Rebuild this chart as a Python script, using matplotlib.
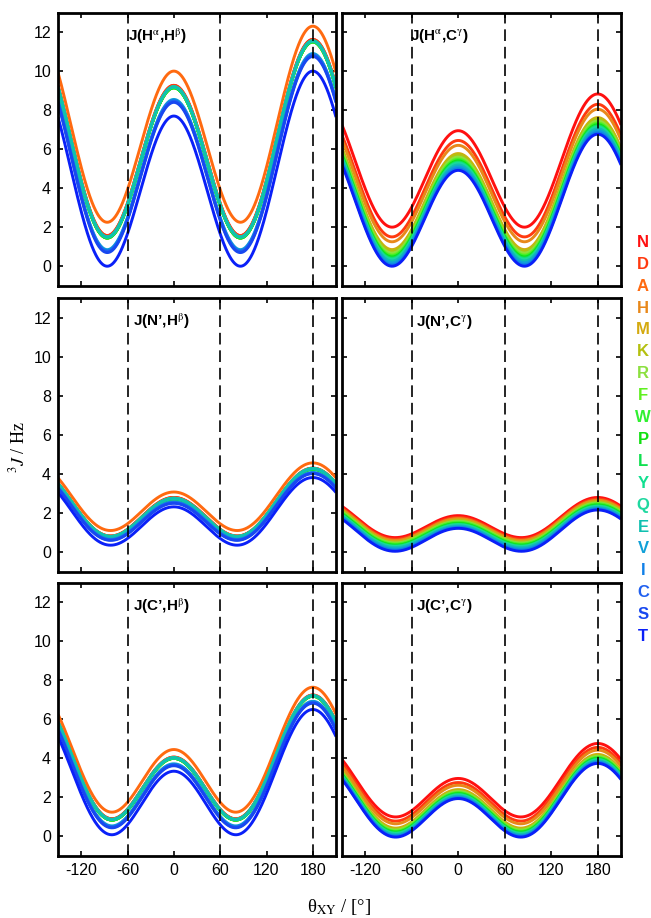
import numpy as np
import matplotlib
matplotlib.use("Agg")
import matplotlib.pyplot as plt

plt.rcParams['font.family'] = ['Liberation Sans', 'DejaVu Sans']
plt.rcParams['mathtext.fontset'] = 'stix'
plt.rcParams['axes.unicode_minus'] = False

# Residues (legend order) and their colours
residues = ['N', 'D', 'A', 'H', 'M', 'K', 'R', 'F', 'W', 'P', 'L', 'Y', 'Q', 'E', 'V', 'I', 'C', 'S', 'T']
res_colors = ['#FF1010', '#FF3A10', '#FF6A10', '#E8881A', '#D4AA10', '#B4C010', '#8CE040',
              '#60F020', '#30F030', '#10E010', '#10E050', '#10E090', '#20D8A0', '#10C0B0',
              '#10A0D8', '#1080E8', '#2060F0', '#1848F0', '#0A20F8']

nan = np.nan
# Coupling values read at theta = 0, 90 and 180 degrees (Hz), one entry per residue
# J(Ha,Hb)
hahb_j0 = [9.27, 9.27, 10.0, 9.15, 9.15, 9.15, 9.15, 9.15, 9.15, 9.15, 9.15, 9.2, 9.2, 9.2, 8.55, 8.5, 8.45, 8.4, 7.7]
hahb_j90 = [1.62, 1.62, 2.3, 1.5, 1.5, 1.5, 1.5, 1.5, 1.5, 1.5, 1.5, 1.55, 1.55, 1.55, 0.9, 0.85, 0.8, 0.75, 0.05]
hahb_j180 = [11.62, 11.62, 12.3, 11.5, 11.5, 11.5, 11.5, 11.5, 11.5, 11.5, 11.5, 11.55, 11.55, 11.55, 10.9, 10.85, 10.8, 10.75, 10.0]
# J(Ha,Cg)
hacg_j0 = [6.95, 6.45, nan, 6.2, 5.78, 5.72, 5.6, 5.5, 5.45, 5.4, 5.35, 5.3, 5.25, 5.2, 5.1, 5.0, nan, nan, 4.92]
hacg_j90 = [2.05, 1.55, nan, 1.3, 0.9, 0.84, 0.72, 0.62, 0.57, 0.52, 0.47, 0.42, 0.37, 0.32, 0.22, 0.12, nan, nan, 0.05]
hacg_j180 = [8.83, 8.3, nan, 8.05, 7.62, 7.57, 7.45, 7.35, 7.3, 7.25, 7.2, 7.15, 7.1, 7.05, 6.95, 6.85, nan, nan, 6.77]
# J(N',Hb)
nhb_j0 = [2.8, 2.8, 3.08, 2.73, 2.73, 2.73, 2.73, 2.73, 2.73, 2.73, 2.73, 2.76, 2.76, 2.76, 2.58, 2.55, 2.53, 2.5, 2.32]
nhb_j90 = [0.88, 0.88, 1.16, 0.84, 0.84, 0.84, 0.84, 0.84, 0.84, 0.84, 0.84, 0.86, 0.86, 0.86, 0.72, 0.7, 0.68, 0.66, 0.41]
nhb_j180 = [4.3, 4.3, 4.57, 4.25, 4.25, 4.25, 4.25, 4.25, 4.25, 4.25, 4.25, 4.28, 4.28, 4.28, 4.08, 4.06, 4.04, 4.02, 3.82]
# J(N',Cg)
ncg_j0 = [1.87, 1.78, nan, 1.72, 1.66, 1.62, 1.58, 1.54, 1.5, 1.47, 1.44, 1.41, 1.38, 1.35, 1.3, 1.26, nan, nan, 1.22]
ncg_j90 = [0.78, 0.7, nan, 0.64, 0.58, 0.54, 0.5, 0.46, 0.42, 0.39, 0.36, 0.33, 0.3, 0.27, 0.2, 0.14, nan, nan, 0.08]
ncg_j180 = [2.8, 2.72, nan, 2.66, 2.6, 2.56, 2.52, 2.48, 2.44, 2.41, 2.38, 2.35, 2.32, 2.29, 2.24, 2.2, nan, nan, 2.16]
# J(C',Hb)
chb_j0 = [4.06, 4.06, 4.45, 4.0, 4.0, 4.0, 4.0, 4.0, 4.0, 4.0, 4.0, 4.03, 4.03, 4.03, 3.72, 3.68, 3.65, 3.62, 3.34]
chb_j90 = [1.04, 1.04, 1.38, 0.98, 0.98, 0.98, 0.98, 0.98, 0.98, 0.98, 0.98, 1.01, 1.01, 1.01, 0.68, 0.64, 0.61, 0.58, 0.22]
chb_j180 = [7.24, 7.24, 7.64, 7.18, 7.18, 7.18, 7.18, 7.18, 7.18, 7.18, 7.18, 7.21, 7.21, 7.21, 6.92, 6.88, 6.85, 6.82, 6.5]
# J(C',Cg)
ccg_j0 = [2.97, 2.76, nan, 2.62, 2.4, 2.35, 2.3, 2.25, 2.22, 2.19, 2.16, 2.13, 2.1, 2.07, 2.02, 1.98, nan, nan, 1.94]
ccg_j90 = [1.07, 0.86, nan, 0.72, 0.5, 0.45, 0.4, 0.35, 0.32, 0.29, 0.26, 0.23, 0.2, 0.17, 0.12, 0.08, nan, nan, 0.04]
ccg_j180 = [4.76, 4.56, nan, 4.42, 4.2, 4.15, 4.1, 4.05, 4.02, 3.99, 3.96, 3.93, 3.9, 3.87, 3.82, 3.78, nan, nan, 3.74]

panel_titles = [r'J(H$^{\mathrm{\alpha}}$,H$^{\mathrm{\beta}}$)', r'J(H$^{\mathrm{\alpha}}$,C$^{\mathrm{\gamma}}$)',
                r'J(N’,H$^{\mathrm{\beta}}$)', r'J(N’,C$^{\mathrm{\gamma}}$)',
                r'J(C’,H$^{\mathrm{\beta}}$)', r'J(C’,C$^{\mathrm{\gamma}}$)']
panel_data = [(hahb_j0, hahb_j90, hahb_j180), (hacg_j0, hacg_j90, hacg_j180),
              (nhb_j0, nhb_j90, nhb_j180), (ncg_j0, ncg_j90, ncg_j180),
              (chb_j0, chb_j90, chb_j180), (ccg_j0, ccg_j90, ccg_j180)]
title_x = [-59, -62, -53, -55, -53, -55]

xticks = [-120, -60, 0, 60, 120, 180]
yticks = [0, 2, 4, 6, 8, 10, 12]
dash_positions = [-60, 60, 180]

theta = np.linspace(-150, 210, 721)
rad = np.deg2rad(theta)

fig = plt.figure(figsize=(6.51, 9.18), dpi=100)
lefts = [58 / 651, 342 / 651]
widths = [278 / 651, 279 / 651]
bottoms = [1 - 286 / 918, 1 - 571.7 / 918, 1 - 856 / 918]
height = 273.5 / 918

for i, (title, (j0s, j90s, j180s)) in enumerate(zip(panel_titles, panel_data)):
    r, c = divmod(i, 2)
    ax = fig.add_axes([lefts[c], bottoms[r], widths[c], height])
    for k in range(len(residues)):
        j0, j90, j180 = j0s[k], j90s[k], j180s[k]
        if np.isnan(j0):
            continue
        A = (j0 + j180) / 2 - j90
        B = (j0 - j180) / 2
        J = A * np.cos(rad) ** 2 + B * np.cos(rad) + j90
        ax.plot(theta, J, color=res_colors[k], lw=2.1, solid_capstyle='butt', zorder=2)
    for xd in dash_positions:
        ax.axvline(xd, color='black', lw=1.2, dashes=(7, 3.5), zorder=3)
    ax.set_xlim(-150, 210)
    ax.set_ylim(-1, 13)
    ax.set_xticks(xticks)
    ax.set_yticks(yticks)
    ax.tick_params(direction='in', top=True, right=True, length=3.5, width=1.2,
                   labelsize=11.5, pad=5)
    if c == 1:
        ax.set_yticklabels([])
    if r < 2:
        ax.set_xticklabels([])
    for sp in ax.spines.values():
        sp.set_linewidth(2.0)
    ax.text(title_x[i], 11.8, title, fontsize=11, fontweight='bold', ha='left', va='center', zorder=4)

fig.text(18 / 651, 1 - 447 / 918, r'$^{3}J$ / Hz', rotation=90, ha='center', va='center',
         fontsize=13, family='Liberation Serif')
fig.text(339 / 651, 1 - 907 / 918, r'θ$_{\mathrm{XY}}$ / [°]', ha='center', va='center',
         fontsize=13.5, family='Liberation Serif')

for k, (name, col) in enumerate(zip(residues, res_colors)):
    y = 242.3 + k * 21.9
    fig.text(643 / 651, 1 - y / 918, name, color=col, fontsize=12, fontweight='bold',
             ha='center', va='center')

fig.savefig('out.png', dpi=100)
